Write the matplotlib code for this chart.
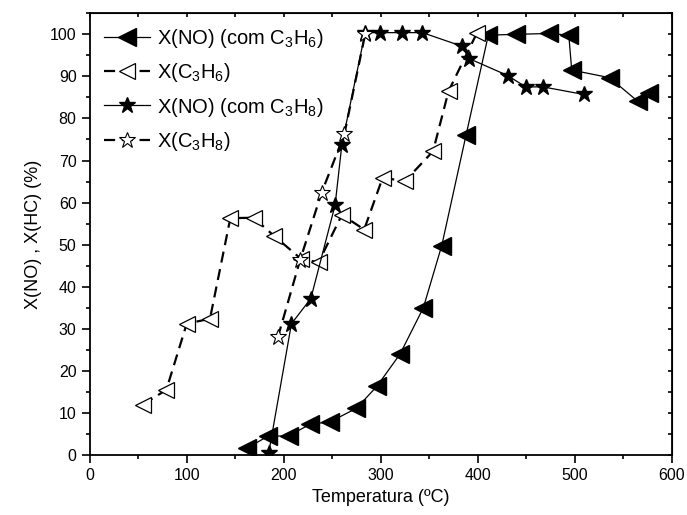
import matplotlib
matplotlib.use("Agg")
import matplotlib.pyplot as plt
from matplotlib.ticker import MultipleLocator

plt.rcParams['font.family'] = ['Liberation Sans', 'DejaVu Sans']
plt.rcParams['mathtext.fontset'] = 'custom'
plt.rcParams['mathtext.rm'] = 'Liberation Sans'
plt.rcParams['mathtext.it'] = 'Liberation Sans'

# X(NO) com C3H6
t_no_c3h6 = [162, 184, 205, 227, 248, 275, 296, 320, 344, 363, 388, 411, 440, 474, 494, 497, 536, 565, 577]
x_no_c3h6 = [1.6, 4.5, 4.5, 7.3, 7.9, 11.1, 16.3, 24, 35, 49.8, 76, 99.8, 100, 100.2, 99.8, 91.5, 89.7, 84.1, 86.1]

# X(C3H6)
t_c3h6 = [55, 79, 100, 124, 145, 169, 190, 218, 236, 260, 283, 302, 325, 354, 370, 399]
x_c3h6 = [12, 15.5, 31.2, 32.4, 56.3, 56.4, 52.1, 46.6, 45.8, 57.1, 53.6, 65.9, 65.1, 72.2, 86.5, 100.2]

# X(NO) com C3H8
t_no_c3h8 = [184.5, 208, 228, 253, 260, 284, 299, 322, 343, 383.5, 391.5, 431, 449.5, 467.5, 509.5]
x_no_c3h8 = [0.4, 31.2, 37.2, 59.4, 73.8, 100.4, 100.4, 100.4, 100.4, 97.2, 94.2, 90.2, 87.5, 87.5, 85.7]

# X(C3H8)
t_c3h8 = [194, 217, 239, 262.5, 284]
x_c3h8 = [28, 46.4, 62.3, 76.2, 100]

fig = plt.figure(figsize=(6.87, 5.15), dpi=100)
ax = fig.add_axes([0.1306, 0.1165, 0.847, 0.8577])

ax.plot(t_no_c3h6, x_no_c3h6, color='black', lw=0.9, marker='<', ms=12.5,
        mfc='black', mec='black', label=r'X(NO) (com C$_3$H$_6$)')
ax.plot(t_c3h6, x_c3h6, color='black', lw=1.6, dashes=(5, 3), marker='<', ms=11,
        mfc='white', mec='black', mew=0.9, label=r'X(C$_3$H$_6$)')
ax.plot(t_no_c3h8, x_no_c3h8, color='black', lw=0.9, marker='*', ms=12,
        mfc='black', mec='black', label=r'X(NO) (com C$_3$H$_8$)')
ax.plot(t_c3h8, x_c3h8, color='black', lw=1.6, dashes=(5, 3), marker='*', ms=12,
        mfc='white', mec='black', mew=0.8, label=r'X(C$_3$H$_8$)')

ax.set_xlim(0, 600)
ax.set_ylim(0, 105)
ax.xaxis.set_major_locator(MultipleLocator(100))
ax.xaxis.set_minor_locator(MultipleLocator(50))
ax.yaxis.set_major_locator(MultipleLocator(10))
ax.yaxis.set_minor_locator(MultipleLocator(5))
ax.set_yticks(range(0, 101, 10))

ax.tick_params(which='both', direction='out', top=False, right=False, labelsize=11.5, width=1.2)
ax.tick_params(which='major', length=6)
ax.tick_params(which='minor', length=3)
for s in ax.spines.values():
    s.set_linewidth(1.3)

# inward ticks on top and right
sec_x = ax.secondary_xaxis('top')
sec_x.xaxis.set_major_locator(MultipleLocator(50))
sec_x.tick_params(direction='in', length=3, width=1.2, labeltop=False)
sec_y = ax.secondary_yaxis('right')
sec_y.yaxis.set_major_locator(MultipleLocator(5))
sec_y.tick_params(direction='in', length=3, width=1.2, labelright=False)

ax.set_xlabel('Temperatura (ºC)', fontsize=13, labelpad=4)
ax.set_ylabel('X(NO) , X(HC) (%)', fontsize=13, labelpad=6)

ax.legend(loc='upper left', bbox_to_anchor=(0.0, 1.0), frameon=False, fontsize=14.5,
          handlelength=2.3, handletextpad=0.35, labelspacing=0.55, borderaxespad=0.3)

fig.savefig('out.png', dpi=100)
